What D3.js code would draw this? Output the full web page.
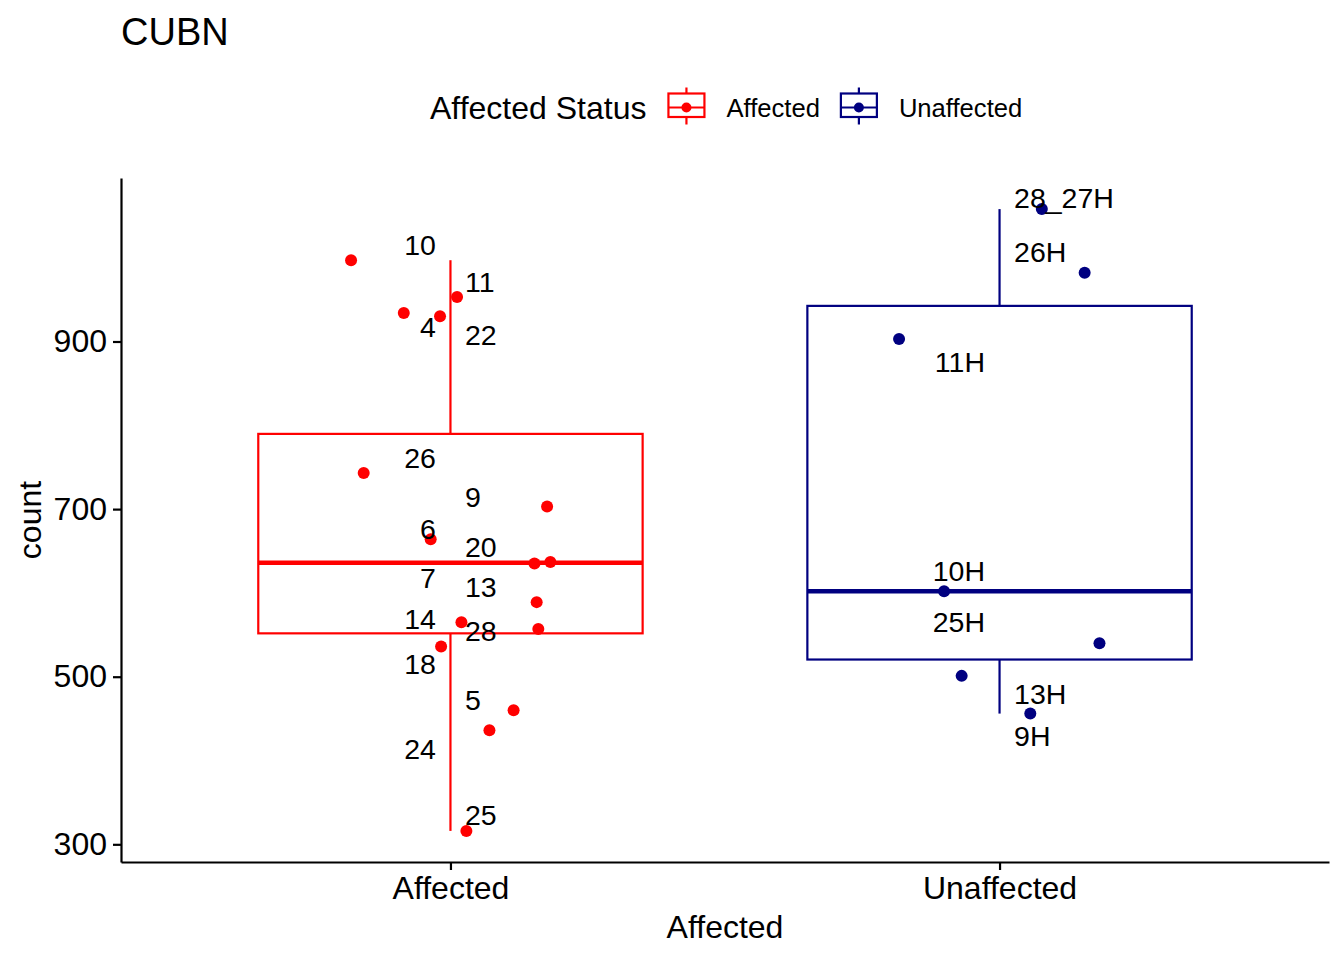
<!DOCTYPE html>
<html>
<head>
<meta charset="utf-8">
<script src="https://cdn.jsdelivr.net/npm/d3@7"></script>
<style>
    body { margin: 0; background: #ffffff; }
    svg { font-family: "Liberation Sans", Arial, Helvetica, sans-serif; }
</style>
</head>
<body>
<svg id="chart" width="1344" height="960"></svg>
<script>
// x categories and their colours
const groups = ["Affected", "Unaffected"];
const groupColours = ["#FF0000", "#000080"];

// Affected samples (count, horizontal jitter in category units, label position)
const affectedIds = ["10", "11", "4", "22", "26", "9", "6", "20", "7", "13", "14", "28", "18", "5", "24", "25"];
const affectedCount = [997, 953, 934, 930, 743, 703, 664, 637, 635, 589, 565, 557, 536, 460, 436, 316];
const affectedJitter = [-0.181, 0.012, -0.085, -0.019, -0.158, 0.176, -0.036, 0.182, 0.153, 0.157, 0.020, 0.160, -0.017, 0.115, 0.071, 0.029];
const affectedLabelCount = [1016, 971, 918, 908, 761, 715, 676, 655, 618, 607, 569, 555, 515, 472, 414, 335];
const affectedLabelSide = [-1, 1, -1, 1, -1, 1, -1, 1, -1, 1, -1, 1, -1, 1, -1, 1];

// Unaffected samples
const unaffectedIds = ["28_27H", "26H", "11H", "10H", "25H", "13H", "9H"];
const unaffectedCount = [1058, 982, 903, 602, 540, 501, 456];
const unaffectedJitter = [0.077, 0.155, -0.183, -0.101, 0.182, -0.069, 0.056];
const unaffectedLabelCount = [1072, 1007, 876, 627, 565, 480, 430];
const unaffectedLabelSide = [1, 1, -1, -1, -1, 1, 1];

const yTicks = [300, 500, 700, 900];

const titleText = "CUBN";
const xTitle = "Affected";
const yTitle = "count";
const legendTitle = "Affected Status";

// Specify the chart's dimensions.
const width = 1344;
const height = 960;
const marginTop = 178;
const marginRight = 15;
const marginBottom = 98;
const marginLeft = 121;

const baseFont = 32;
const labelFont = 28.5;
const labelGap = 14.5;
const boxWidth = 0.7;

// build per-sample rows from the arrays
const samples = [];
affectedIds.forEach((id, i) => samples.push({
    group: groups[0], id, count: affectedCount[i], jitter: affectedJitter[i],
    labelCount: affectedLabelCount[i], side: affectedLabelSide[i]
}));
unaffectedIds.forEach((id, i) => samples.push({
    group: groups[1], id, count: unaffectedCount[i], jitter: unaffectedJitter[i],
    labelCount: unaffectedLabelCount[i], side: unaffectedLabelSide[i]
}));

const colour = d3.scaleOrdinal().domain(groups).range(groupColours);

const svg = d3.select("#chart");

// scales: discrete x with 0.6 expansion, continuous y with 5% expansion
const x = d3.scalePoint()
    .domain(groups)
    .range([marginLeft, width - marginRight])
    .padding(0.6);
const step = x.step();

const [minC, maxC] = d3.extent(samples, d => d.count);
const pad = (maxC - minC) * 0.05;
const y = d3.scaleLinear()
    .domain([minC - pad, maxC + pad])
    .range([height - marginBottom, marginTop]);

// box statistics like geom_boxplot
const boxStats = groups.map(g => {
    const vals = samples.filter(d => d.group === g).map(d => d.count).sort(d3.ascending);
    const q1 = d3.quantile(vals, 0.25);
    const med = d3.quantile(vals, 0.5);
    const q3 = d3.quantile(vals, 0.75);
    const iqr = q3 - q1;
    const lo = d3.min(vals.filter(v => v >= q1 - 1.5 * iqr));
    const hi = d3.max(vals.filter(v => v <= q3 + 1.5 * iqr));
    return { group: g, q1, med, q3, lo, hi };
});

const boxes = svg.append("g")
    .selectAll("g")
    .data(boxStats)
    .join("g")
    .attr("stroke", d => colour(d.group));

// whiskers
boxes.append("line")
    .attr("x1", d => x(d.group)).attr("x2", d => x(d.group))
    .attr("y1", d => y(d.q3)).attr("y2", d => y(d.hi))
    .attr("stroke-width", 2.2);
boxes.append("line")
    .attr("x1", d => x(d.group)).attr("x2", d => x(d.group))
    .attr("y1", d => y(d.q1)).attr("y2", d => y(d.lo))
    .attr("stroke-width", 2.2);

// the box
boxes.append("rect")
    .attr("x", d => x(d.group) - boxWidth * step / 2)
    .attr("width", boxWidth * step)
    .attr("y", d => y(d.q3))
    .attr("height", d => y(d.q1) - y(d.q3))
    .attr("fill", "#ffffff")
    .attr("stroke-width", 2.2);

// median
boxes.append("line")
    .attr("x1", d => x(d.group) - boxWidth * step / 2)
    .attr("x2", d => x(d.group) + boxWidth * step / 2)
    .attr("y1", d => y(d.med)).attr("y2", d => y(d.med))
    .attr("stroke-width", 4.6);

// jittered points
svg.append("g")
    .selectAll("circle")
    .data(samples)
    .join("circle")
    .attr("cx", d => x(d.group) + d.jitter * step)
    .attr("cy", d => y(d.count))
    .attr("r", 6)
    .attr("fill", d => colour(d.group));

// sample labels
svg.append("g")
    .attr("font-size", labelFont)
    .attr("fill", "#000000")
    .selectAll("text")
    .data(samples)
    .join("text")
    .attr("x", d => x(d.group) + d.side * labelGap)
    .attr("y", d => y(d.labelCount))
    .attr("dy", "0.36em")
    .attr("text-anchor", d => d.side < 0 ? "end" : "start")
    .text(d => d.id);

// Append the vertical axis.
svg.append("g")
    .attr("transform", `translate(${marginLeft},0)`)
    .call(d3.axisLeft(y).tickValues(yTicks).tickSize(8).tickSizeOuter(0).tickPadding(6))
    .call(g => g.attr("font-size", baseFont).attr("font-family", null))
    .call(g => g.selectAll("path, line").attr("stroke", "#000000").attr("stroke-width", 2.2))
    .call(g => g.selectAll("text").attr("fill", "#000000"));

// Append the horizontal axis.
svg.append("g")
    .attr("transform", `translate(0,${height - marginBottom})`)
    .call(d3.axisBottom(x).tickSize(8).tickSizeOuter(0).tickPadding(6))
    .call(g => g.attr("font-size", baseFont).attr("font-family", null))
    .call(g => g.selectAll("path, line").attr("stroke", "#000000").attr("stroke-width", 2.2))
    .call(g => g.selectAll("text").attr("fill", "#000000"));

// axis titles
svg.append("text")
    .attr("x", (marginLeft + width - marginRight) / 2)
    .attr("y", 938)
    .attr("text-anchor", "middle")
    .attr("font-size", baseFont)
    .text(xTitle);

svg.append("text")
    .attr("transform", `translate(41,${(marginTop + height - marginBottom) / 2}) rotate(-90)`)
    .attr("text-anchor", "middle")
    .attr("font-size", baseFont)
    .text(yTitle);

// plot title
svg.append("text")
    .attr("x", marginLeft)
    .attr("y", 45)
    .attr("font-size", 38)
    .text(titleText);

// legend on top
const legend = svg.append("g");
const legendMid = 107.5;
const legendTitleNode = legend.append("text")
    .attr("x", 430)
    .attr("y", legendMid + 11.5)
    .attr("font-size", baseFont)
    .text(legendTitle);

let lx = 430 + legendTitleNode.node().getComputedTextLength() + 22;
groups.forEach(g => {
    const key = legend.append("g")
        .attr("stroke", colour(g))
        .attr("stroke-width", 2.2);
    key.append("line")
        .attr("x1", lx + 18).attr("x2", lx + 18)
        .attr("y1", legendMid - 20).attr("y2", legendMid + 17);
    key.append("rect")
        .attr("x", lx).attr("y", legendMid - 14)
        .attr("width", 36).attr("height", 23.5)
        .attr("fill", "#ffffff");
    key.append("line")
        .attr("x1", lx).attr("x2", lx + 36)
        .attr("y1", legendMid).attr("y2", legendMid);
    key.append("circle")
        .attr("cx", lx + 18).attr("cy", legendMid)
        .attr("r", 5)
        .attr("stroke", "none")
        .attr("fill", colour(g));
    lx += 36 + 22;
    const t = legend.append("text")
        .attr("x", lx)
        .attr("y", legendMid + 9.2)
        .attr("font-size", 25.6)
        .text(g);
    lx += t.node().getComputedTextLength() + 21;
});
</script>
</body>
</html>
